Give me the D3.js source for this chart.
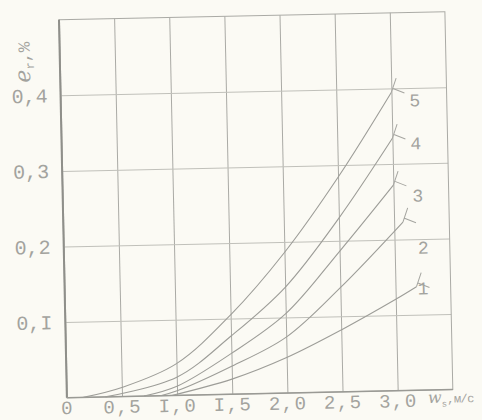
<!DOCTYPE html>
<html>
<head>
<meta charset="utf-8">
<script src="https://cdn.jsdelivr.net/npm/d3@7"></script>
<style>
  body { margin: 0; background: #fbfaf4; }
  svg { display: block; }
</style>
</head>
<body>
<div id="chart"></div>
<script>
// curve data (x = w, m/s ; y = e_r, %)
var xs5 = [0.15, 0.5, 1.0, 1.5, 2.0, 2.5, 3.0];
var ys5 = [0, 0.012, 0.042, 0.105, 0.186, 0.284, 0.395];
var xs4 = [0.35, 1.0, 1.5, 2.0, 2.5, 3.0];
var ys4 = [0, 0.024, 0.077, 0.14, 0.23, 0.334];
var xs3 = [0.7, 1.0, 1.5, 2.0, 2.5, 3.0];
var ys3 = [0, 0.012, 0.054, 0.105, 0.186, 0.272];
var xs2 = [0.85, 1.0, 1.5, 2.0, 2.5, 3.08];
var ys2 = [0, 0.006, 0.037, 0.074, 0.138, 0.223];
var xs1 = [0.95, 1.5, 2.0, 2.5, 3.0, 3.19];
var ys1 = [0, 0.02, 0.047, 0.082, 0.121, 0.137];

var curveNames = ["5", "4", "3", "2", "1"];
var labelX = [3.21, 3.21, 3.22, 3.26, 3.25];
var labelY = [0.384, 0.327, 0.258, 0.189, 0.135];

var xTicks = [0, 0.5, 1.0, 1.5, 2.0, 2.5, 3.0];
var xTickLabels = ["0", "0,5", "I,0", "I,5", "2,0", "2,5", "3,0"];
var yTicks = [0.1, 0.2, 0.3, 0.4];
var yTickLabels = ["0,I", "0,2", "0,3", "0,4"];

var svgWidth = 482;
var svgHeight = 420;

var ink = "#a3a39e";
var mono = "'Liberation Mono', 'DejaVu Sans Mono', monospace";

var svg = d3.select("#chart")
    .append("svg")
    .attr("width", svgWidth)
    .attr("height", svgHeight);

svg.append("rect")
    .attr("width", svgWidth)
    .attr("height", svgHeight)
    .attr("fill", "#fbfaf4");

// the scanned page is turned a little, so the whole chart is too
var page = svg.append("g")
    .attr("transform", "rotate(-1.2, 241, 210)");

var x = d3.scaleLinear().domain([0, 3.5]).range([63, 449]);
var y = d3.scaleLinear().domain([0, 0.5]).range([394, 16]);

var plotW = x(3.5) - x(0);
var plotH = y(0) - y(0.5);

// vertical grid + x labels
var xAxis = d3.axisBottom(x)
    .tickValues(xTicks)
    .tickSizeInner(-plotH)
    .tickSizeOuter(0)
    .tickPadding(3)
    .tickFormat(function(d, i) { return xTickLabels[i]; });

var gx = page.append("g")
    .attr("transform", `translate(0, ${y(0)})`)
    .call(xAxis);
gx.select(".domain").remove();
gx.selectAll("line").attr("stroke", "#aaaaa5").attr("stroke-width", 1);
gx.selectAll("text")
    .attr("fill", ink)
    .style("font-family", mono)
    .style("font-size", "19px")
    .style("letter-spacing", "1.5px");

// horizontal grid + y labels
var yAxis = d3.axisLeft(y)
    .tickValues(yTicks)
    .tickSizeInner(-plotW)
    .tickSizeOuter(0)
    .tickPadding(13)
    .tickFormat(function(d, i) { return yTickLabels[i]; });

var gy = page.append("g")
    .attr("transform", `translate(${x(0)}, 0)`)
    .call(yAxis);
gy.select(".domain").remove();
gy.selectAll("line").attr("stroke", "#c0c0ba").attr("stroke-width", 1);
gy.selectAll("text")
    .attr("fill", ink)
    .style("font-family", mono)
    .style("font-size", "20px");

// frame
page.append("rect")
    .attr("x", x(0))
    .attr("y", y(0.5))
    .attr("width", plotW)
    .attr("height", plotH)
    .attr("fill", "none")
    .attr("stroke", "#aaaaa5")
    .attr("stroke-width", 1);
page.append("line")
    .attr("x1", x(0)).attr("x2", x(0))
    .attr("y1", y(0.5)).attr("y2", y(0))
    .attr("stroke", "#8f8f8a")
    .attr("stroke-width", 2);
page.append("line")
    .attr("x1", x(0)).attr("x2", x(3.5))
    .attr("y1", y(0)).attr("y2", y(0))
    .attr("stroke", "#9a9a95")
    .attr("stroke-width", 1.5);

// curves
var seriesX = [xs5, xs4, xs3, xs2, xs1];
var seriesY = [ys5, ys4, ys3, ys2, ys1];
var series = seriesX.map(function(xs, i) {
    return xs.map(function(v, j) { return { x: v, y: seriesY[i][j] }; });
});

var line = d3.line()
    .x(d => x(d.x))
    .y(d => y(d.y))
    .curve(d3.curveCatmullRom.alpha(0.5));

page.selectAll(".curve")
    .data(series)
    .enter()
    .append("path")
    .attr("class", "curve")
    .attr("d", line)
    .attr("fill", "none")
    .attr("stroke", "#9d9d98")
    .attr("stroke-width", 1.1);

// little hand-drawn markers at the curve ends
page.selectAll(".marker")
    .data(series)
    .enter()
    .append("path")
    .attr("class", "marker")
    .attr("d", function(s) {
        var e = s[s.length - 1];
        var ex = x(e.x), ey = y(e.y);
        return `M${ex},${ey} L${ex + 5},${ey - 14} M${ex + 1},${ey - 4} L${ex + 13},${ey + 1}`;
    })
    .attr("fill", "none")
    .attr("stroke", "#a5a5a0")
    .attr("stroke-width", 1);

page.selectAll(".curve-label")
    .data(curveNames)
    .enter()
    .append("text")
    .attr("class", "curve-label")
    .attr("x", (d, i) => x(labelX[i]))
    .attr("y", (d, i) => y(labelY[i]))
    .attr("dy", "0.35em")
    .attr("text-anchor", "middle")
    .attr("fill", ink)
    .style("font-family", mono)
    .style("font-size", "18px")
    .text(d => d);

// axis titles
var yTitle = page.append("text")
    .attr("transform", "translate(33, 78) rotate(-90)")
    .attr("fill", ink)
    .style("font-family", mono);
yTitle.append("tspan")
    .style("font-family", "'DejaVu Serif', serif")
    .style("font-style", "italic")
    .style("font-size", "22px")
    .text("e");
yTitle.append("tspan")
    .attr("dy", "4")
    .style("font-size", "12px")
    .text("r");
yTitle.append("tspan")
    .attr("dy", "-4")
    .style("font-size", "17px")
    .text(",%");

var xTitle = page.append("text")
    .attr("x", 424)
    .attr("y", 407)
    .attr("fill", ink)
    .style("font-family", mono);
xTitle.append("tspan")
    .style("font-family", "'DejaVu Serif', serif")
    .style("font-style", "italic")
    .style("font-size", "16px")
    .text("w");
xTitle.append("tspan")
    .attr("dy", "4")
    .style("font-size", "9px")
    .text("s");
xTitle.append("tspan")
    .attr("dy", "-4")
    .style("font-size", "12px")
    .style("letter-spacing", "-0.5px")
    .text(",м/с");
</script>
</body>
</html>
